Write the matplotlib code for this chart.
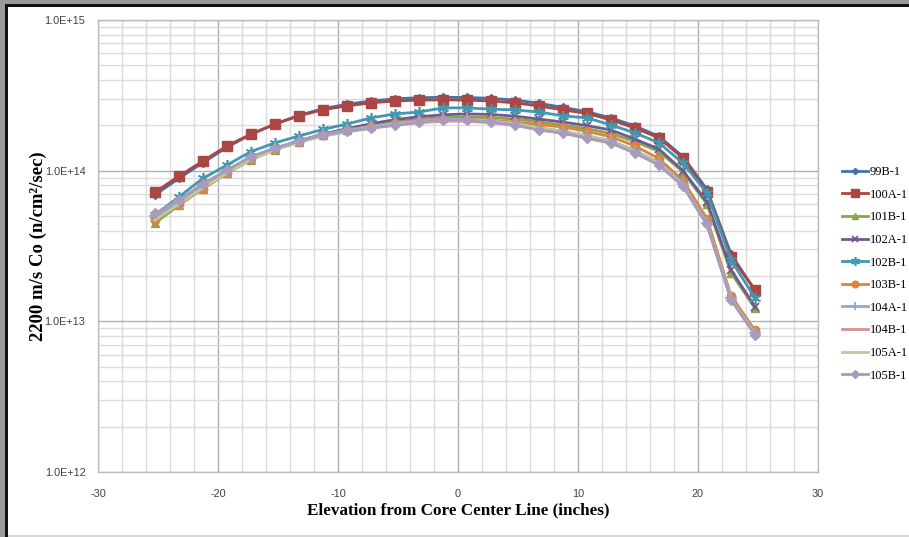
import math
import matplotlib
matplotlib.use("Agg")
import matplotlib.pyplot as plt
from matplotlib.patches import Rectangle
from matplotlib.ticker import FixedLocator, FuncFormatter, NullFormatter

plt.rcParams["axes.unicode_minus"] = False

# ---------------- data ----------------
elevation = [-25.25, -23.25, -21.25, -19.25, -17.25, -15.25, -13.25, -11.25, -9.25,
             -7.25, -5.25, -3.25, -1.25, 0.75, 2.75, 4.75, 6.75, 8.75, 10.75,
             12.75, 14.75, 16.75, 18.75, 20.75, 22.75, 24.75]

series_names = ["99B-1", "100A-1", "101B-1", "102A-1", "102B-1",
                "103B-1", "104A-1", "104B-1", "105A-1", "105B-1"]

# values in units of 1e13 n/cm2/sec
s99B = [6.9, 8.9, 11.3, 14.3, 17.4, 20.4, 23.3, 25.8, 27.6, 29.0, 30.0, 30.5, 30.7,
        30.6, 30.2, 29.4, 28.0, 26.3, 24.6, 22.4, 19.8, 16.9, 12.4, 7.5, 2.8, 1.6]
s100A = [7.2, 9.2, 11.6, 14.6, 17.5, 20.4, 23.1, 25.4, 26.9, 28.2, 29.0, 29.4, 29.5,
         29.4, 29.0, 28.2, 26.9, 25.3, 24.0, 21.7, 19.2, 16.5, 12.1, 7.2, 2.67, 1.62]
s101B = [4.5, 5.9, 7.6, 9.6, 11.8, 13.8, 15.6, 17.2, 18.6, 19.9, 21.0, 21.9, 22.5,
         22.7, 22.5, 22.0, 21.1, 20.0, 19.0, 17.6, 15.6, 13.4, 9.8, 6.0, 2.1, 1.22]
s102A = [4.9, 6.2, 7.9, 9.8, 12.1, 14.0, 15.8, 17.5, 19.0, 20.5, 21.8, 22.8, 23.5,
         23.8, 23.6, 23.0, 22.0, 21.0, 19.9, 18.6, 16.2, 13.9, 10.0, 6.2, 2.2, 1.25]
s102B = [5.1, 6.7, 8.9, 10.9, 13.4, 15.3, 17.0, 18.8, 20.4, 22.4, 23.8, 24.5, 26.1,
         26.1, 25.6, 25.3, 24.5, 23.1, 22.4, 20.1, 17.8, 15.3, 11.2, 7.1, 2.55, 1.43]
s103B = [4.7, 6.0, 7.6, 9.6, 11.9, 13.9, 15.6, 17.2, 18.6, 19.8, 20.8, 21.5, 22.0,
         22.0, 21.6, 21.0, 20.2, 19.5, 18.2, 16.8, 14.6, 12.0, 8.6, 4.8, 1.48, 0.87]
s104A = [5.0, 6.2, 8.0, 10.0, 12.3, 14.1, 15.8, 17.4, 18.6, 19.6, 20.6, 21.4, 21.9,
         21.9, 21.4, 20.6, 19.2, 18.3, 17.0, 15.8, 13.6, 11.3, 8.2, 4.5, 1.42, 0.84]
s104B = [4.8, 6.0, 7.8, 9.7, 12.0, 13.8, 15.5, 17.0, 18.1, 19.1, 20.0, 20.8, 21.3,
         21.3, 20.8, 20.0, 18.7, 17.7, 16.4, 15.2, 13.1, 10.9, 7.9, 4.35, 1.40, 0.83]
s105A = [4.7, 6.0, 7.7, 9.6, 11.9, 13.8, 15.4, 17.0, 18.2, 19.3, 20.3, 21.1, 21.6,
         21.7, 21.3, 20.5, 19.2, 18.2, 16.9, 15.6, 13.4, 11.1, 8.0, 4.4, 1.41, 0.82]
s105B = [5.2, 6.4, 8.2, 10.1, 12.4, 14.1, 15.7, 17.3, 18.3, 19.2, 20.1, 21.0, 21.7,
         21.7, 21.0, 20.1, 18.6, 17.8, 16.5, 15.3, 13.1, 10.9, 7.9, 4.4, 1.39, 0.81]
scale = 1e13

y_ticks = [1e12, 1e13, 1e14, 1e15]
x_ticks = [-30, -20, -10, 0, 10, 20, 30]

# ---------------- styles ----------------
styles = [
    dict(color="#4572A7", marker="D", ms=4),
    dict(color="#AA4643", marker="s", ms=7),
    dict(color="#89A54E", marker="^", ms=6),
    dict(color="#71588F", marker="x", ms=6, mew=1.3),
    dict(color="#4198AF", marker=(6, 2, 0), ms=8, mew=1.2),
    dict(color="#DB843D", marker="o", ms=6),
    dict(color="#93A9CF", marker="+", ms=8, mew=1.3),
    dict(color="#D19392", marker=None, ms=0),
    dict(color="#B9CD96", marker=None, ms=0),
    dict(color="#A99BBD", marker="D", ms=5),
]

W, H = 909, 537
fig = plt.figure(figsize=(W / 100, H / 100), dpi=100)
fig.patch.set_facecolor("white")

# outer frame
fig.add_artist(Rectangle((0, 1 - 4 / H), 1, 4 / H, transform=fig.transFigure,
                         facecolor="#9a9a9a", edgecolor="none"))
fig.add_artist(Rectangle((0, 0), 5 / W, 1, transform=fig.transFigure,
                         facecolor="#9a9a9a", edgecolor="none"))
fig.add_artist(Rectangle((5 / W, 1 - 7 / H), 1 - 5 / W, 3 / H, transform=fig.transFigure,
                         facecolor="#111111", edgecolor="none"))
fig.add_artist(Rectangle((5 / W, 0), 3 / W, 1 - 4 / H, transform=fig.transFigure,
                         facecolor="#111111", edgecolor="none"))
fig.add_artist(Rectangle((8 / W, 0), 1 - 8 / W, 2 / H, transform=fig.transFigure,
                         facecolor="#d8d8d8", edgecolor="none"))

ax = fig.add_axes([98 / W, 1 - 472 / H, 720 / W, 452 / H])
ax.set_yscale("log")
ax.set_xlim(-30, 30)
ax.set_ylim(1e12, 1e15)

all_series = [s99B, s100A, s101B, s102A, s102B, s103B, s104A, s104B, s105A, s105B]
handles = []
for name, vals, st in zip(series_names, all_series, styles):
    yv = [v * scale for v in vals]
    ln, = ax.plot(elevation, yv, color=st["color"], lw=2.0,
                  marker=st["marker"], markersize=st["ms"],
                  markeredgewidth=st.get("mew", 1.0),
                  markerfacecolor=st["color"], markeredgecolor=st["color"],
                  label=name)
    handles.append(ln)

# grid
ax.xaxis.set_major_locator(FixedLocator(x_ticks))
ax.xaxis.set_minor_locator(FixedLocator(list(range(-30, 31, 2))))
ax.yaxis.set_major_locator(FixedLocator(y_ticks))
minor_y = [m * 10 ** e for e in (12, 13, 14) for m in range(2, 10)]
ax.yaxis.set_minor_locator(FixedLocator(minor_y))
ax.yaxis.set_minor_formatter(NullFormatter())
ax.yaxis.set_major_formatter(FuncFormatter(lambda v, p: "1.0E+%d" % round(math.log10(v))))
ax.grid(which="major", color="#b0b0b0", lw=1.0)
ax.grid(which="minor", color="#dcdcdc", lw=1.0)
ax.set_axisbelow(True)
for sp in ax.spines.values():
    sp.set_color("#bdbdbd")
    sp.set_linewidth(1.0)
ax.tick_params(which="both", length=0)
ax.tick_params(axis="y", pad=9, labelsize=7.8, labelcolor="#404040")
ax.tick_params(axis="x", pad=12, labelsize=7.8, labelcolor="#404040")
for lab in ax.get_xticklabels() + ax.get_yticklabels():
    lab.set_family("Liberation Sans")

ax.set_xlabel("Elevation from Core Center Line (inches)", family="Liberation Serif",
              fontweight="bold", fontsize=12.3, labelpad=3)
ax.set_ylabel("2200 m/s Co (n/cm²/sec)", family="Liberation Serif",
              fontweight="bold", fontsize=13.5, labelpad=-1.5)

leg = fig.legend(handles=handles, loc="upper left",
                 bbox_to_anchor=(842 / W, 1 - 166 / H), bbox_transform=fig.transFigure,
                 frameon=False, prop={"family": "Liberation Serif", "size": 9},
                 handlelength=2.1, handletextpad=0.15, labelspacing=0.85,
                 borderpad=0, borderaxespad=0, markerscale=0.8)

fig.savefig("out.png", dpi=100)
